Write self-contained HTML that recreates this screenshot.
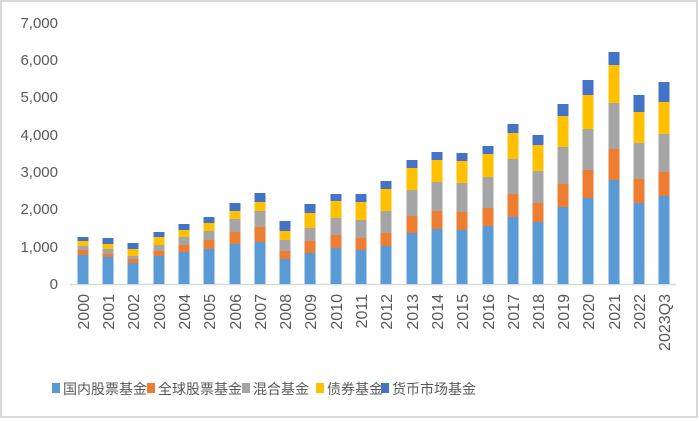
<!DOCTYPE html>
<html><head><meta charset="utf-8"><style>
html,body{margin:0;padding:0;background:#fff;}
svg{display:block;font-family:"Liberation Sans","Noto Sans CJK SC",sans-serif;}
</style></head><body>
<svg width="699" height="421" viewBox="0 0 699 421" xmlns="http://www.w3.org/2000/svg">
<rect x="1" y="1" width="696" height="416" fill="#fff" stroke="#d9d9d9" stroke-width="2"/>
<g font-size="15" fill="#595959" text-anchor="end">
<text x="58" y="289">0</text>
<text x="58" y="252">1,000</text>
<text x="58" y="214">2,000</text>
<text x="58" y="177">3,000</text>
<text x="58" y="140">4,000</text>
<text x="58" y="102">5,000</text>
<text x="58" y="65">6,000</text>
<text x="58" y="28">7,000</text>
</g>
<line x1="70" y1="284.5" x2="676" y2="284.5" stroke="#d9d9d9" stroke-width="1.5"/>
<g id="bars"></g>
<g font-size="16" fill="#595959" id="xl"></g>
<g font-size="14" fill="#595959">
<rect x="52" y="383" width="8" height="10" fill="#5B9BD5"/><text x="63" y="394">国内股票基金</text>
<rect x="147" y="383" width="8" height="10" fill="#ED7D31"/><text x="158" y="394">全球股票基金</text>
<rect x="242" y="383" width="8" height="10" fill="#A5A5A5"/><text x="253" y="394">混合基金</text>
<rect x="316" y="383" width="8" height="10" fill="#FFC000"/><text x="327" y="394">债券基金</text>
<rect x="381" y="383" width="8" height="10" fill="#4472C4"/><text x="392" y="394">货币市场基金</text>
</g>
</svg>
<script>
var d=[
[83,255,250,246,241,237,"2000"],[108,257,254,249,244,238,"2001"],[133,263,259,256,249,243,"2002"],
[159,256,251,245,237,232,"2003"],[184,252,245,237,230,224,"2004"],[209,249,240,231,223,217,"2005"],
[235,244,232,219,211,203,"2006"],[260,242,227,211,202,193,"2007"],[285,259,251,240,231,221,"2008"],
[310,253,241,228,213,204,"2009"],[336,248,235,218,201,194,"2010"],[361,250,238,220,202,194,"2011"],
[386,246,233,211,189,181,"2012"],[412,233,216,190,168,160,"2013"],[437,229,211,182,160,152,"2014"],
[462,230,212,183,161,153,"2015"],[488,226,208,177,154,146,"2016"],[513,217,194,159,133,124,"2017"],
[538,222,203,171,145,135,"2018"],[563,207,184,147,116,104,"2019"],[588,198,170,129,95,80,"2020"],
[614,180,149,103,65,52,"2021"],[639,203,179,143,112,95,"2022"],[664,196,172,134,102,82,"2023Q3"]];
var c=["#5B9BD5","#ED7D31","#A5A5A5","#FFC000","#4472C4"];
var ns="http://www.w3.org/2000/svg",g=document.getElementById("bars"),xl=document.getElementById("xl");
d.forEach(function(b){var prev=284;for(var i=0;i<5;i++){var r=document.createElementNS(ns,"rect");
r.setAttribute("x",b[0]-5.5);r.setAttribute("y",b[i+1]);r.setAttribute("width",11);r.setAttribute("height",prev-b[i+1]);
r.setAttribute("fill",c[i]);g.appendChild(r);prev=b[i+1];}
var t=document.createElementNS(ns,"text");t.setAttribute("transform","translate("+(b[0]+6)+",294) rotate(-90)");
t.setAttribute("text-anchor","end");t.textContent=b[6];xl.appendChild(t);});
</script>
</body></html>
